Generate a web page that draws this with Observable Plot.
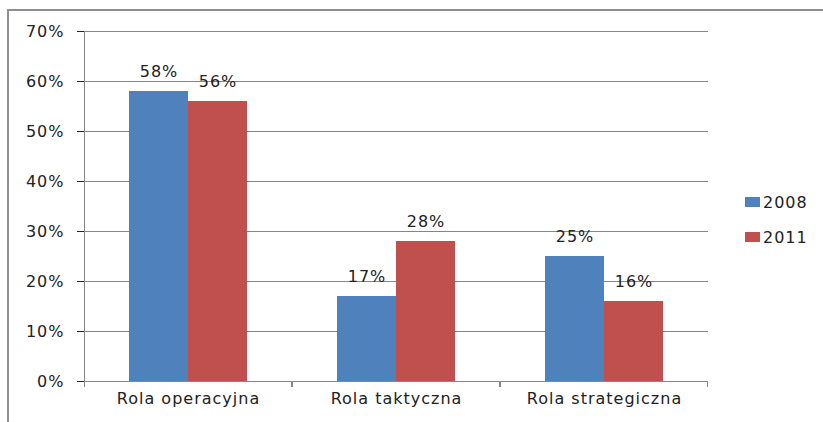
<!DOCTYPE html>
<html>
<head>
<meta charset="utf-8">
<script src="https://cdn.jsdelivr.net/npm/d3@7"></script>
<script src="https://cdn.jsdelivr.net/npm/@observablehq/plot@0.6"></script>
<style>
  html, body { margin: 0; padding: 0; background: #fff; }
  #wrap { position: relative; width: 823px; height: 422px; overflow: hidden; font-family: "DejaVu Sans", sans-serif; }
  #border { position: absolute; left: 7px; top: 9px; width: 900px; height: 500px; border-top: 2px solid #8f8f8f; border-left: 2px solid #8f8f8f; }
  #chart { position: absolute; left: 0; top: 0; }
  #legend { position: absolute; left: 745px; top: 191px; font-size: 16px; letter-spacing: 1px; color: #222; }
  .item { display: flex; align-items: center; height: 22px; margin-bottom: 13px; }
  .sw { width: 15px; height: 10px; margin-right: 3px; }
  g[aria-label="y-axis tick"], g[aria-label="fx-axis tick"] { stroke: #868686; }
  g[aria-label="y-axis"] .tick line { stroke: #868686; }
  g[aria-label="y-axis"] .domain, g[aria-label="fx-axis"] .domain { display: none; }
</style>
</head>
<body>
<div id="wrap">
  <div id="border"></div>
  <div id="chart"></div>
  <div id="legend"></div>
</div>
<script>
const categories = ["Rola operacyjna", "Rola taktyczna", "Rola strategiczna"];
const years = ["2008", "2011"];
const values2008 = [0.58, 0.17, 0.25];
const values2011 = [0.56, 0.28, 0.16];
const yTicks = [0, 0.1, 0.2, 0.3, 0.4, 0.5, 0.6, 0.7];
const colors = ["#4F81BD", "#C0504D"];

const data = [];
categories.forEach((c, i) => {
  data.push({cat: c, year: years[0], value: values2008[i]});
  data.push({cat: c, year: years[1], value: values2011[i]});
});

const pct = d3.format(".0%");
const axisColor = "#868686";

// per-facet axis decoration: category boundary ticks, plus the y-axis line in the first facet
let facetCounter = 0;
function axisDecor(index, scales) {
  const [x0, x1] = scales.x.range();
  const yb = scales.y(0);
  const yt = scales.y(yTicks[yTicks.length - 1]);
  const g = d3.create("svg:g").attr("stroke", axisColor).attr("stroke-width", 1);
  const first = facetCounter++ === 0;
  g.append("line").attr("x1", x0 + 0.5).attr("x2", x0 + 0.5)
    .attr("y1", first ? yt : yb).attr("y2", yb + 6);
  g.append("line").attr("x1", x1 - 0.5).attr("x2", x1 - 0.5)
    .attr("y1", yb).attr("y2", yb + 6);
  return g.node();
}

const chart = Plot.plot({
  width: 823,
  height: 422,
  marginLeft: 83,
  marginRight: 114,
  marginTop: 31,
  marginBottom: 41,
  style: {fontFamily: "DejaVu Sans, sans-serif", fontSize: "16px", color: "#222", background: "transparent", letterSpacing: "1px"},
  fx: {domain: categories, padding: 0, label: null, tickSize: 0, tickPadding: 11, axis: "bottom"},
  x: {domain: years, paddingInner: 0, paddingOuter: 0.74, axis: null},
  y: {domain: [0, 0.7], ticks: yTicks, tickFormat: pct, tickSize: 7, tickPadding: 13, label: null},
  color: {domain: years, range: colors},
  marks: [
    Plot.ruleY(yTicks, {stroke: axisColor, strokeWidth: 1}),
    Plot.barY(data, {fx: "cat", x: "year", y: "value", fill: "year"}),
    Plot.text(data, {fx: "cat", x: "year", y: "value", text: d => pct(d.value), dy: -20, fill: "#222", fontSize: 16}),
    axisDecor
  ]
});
document.getElementById("chart").appendChild(chart);

const legend = document.getElementById("legend");
years.forEach((y, i) => {
  const item = document.createElement("div");
  item.className = "item";
  const sw = document.createElement("div");
  sw.className = "sw";
  sw.style.background = colors[i];
  const t = document.createElement("span");
  t.textContent = y;
  item.appendChild(sw);
  item.appendChild(t);
  legend.appendChild(item);
});
</script>
</body>
</html>
